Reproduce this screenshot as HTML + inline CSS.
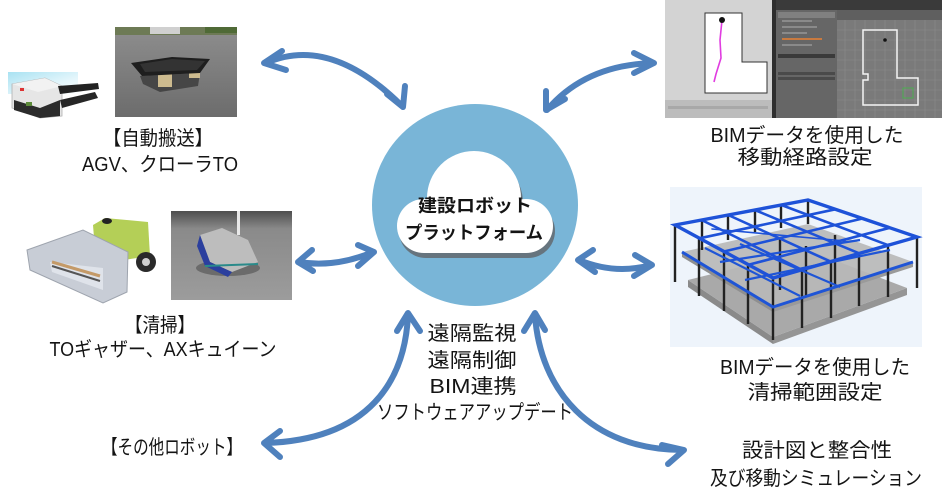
<!DOCTYPE html>
<html><head><meta charset="utf-8"><style>
html,body{margin:0;padding:0;background:#fff;}
svg{display:block;}
text{font-family:"Liberation Sans","Noto Sans CJK JP",sans-serif;fill:#141414;}
</style></head><body>
<svg width="950" height="495" viewBox="0 0 950 495" xmlns="http://www.w3.org/2000/svg">
<defs>
<linearGradient id="asph" x1="0" y1="0" x2="0" y2="1"><stop offset="0" stop-color="#8e8e8e"/><stop offset="1" stop-color="#6c6c6c"/></linearGradient>
<linearGradient id="cyan" x1="0" y1="0" x2="1" y2="1"><stop offset="0" stop-color="#a9e2f2"/><stop offset="0.6" stop-color="#e2f5fb"/><stop offset="1" stop-color="#ffffff"/></linearGradient>
<linearGradient id="floor" x1="0" y1="0" x2="0" y2="1"><stop offset="0" stop-color="#4e4e4e"/><stop offset="0.2" stop-color="#8a8a8a"/><stop offset="1" stop-color="#9c9c9c"/></linearGradient>
</defs>

<!-- ===== AGV image ===== -->
<rect x="8" y="72" width="70" height="22" fill="url(#cyan)"/>
<polygon points="12,84 45,78 62,86 62,116 40,118 12,108" fill="#e6e6e6" stroke="#b0b0b0" stroke-width="0.8"/>
<polygon points="12,84 45,78 62,86 38,92" fill="#f2f2f2"/>
<polygon points="14,100 40,108 60,100 60,116 40,118 14,110" fill="#2c2c2c"/>
<polygon points="58,86 98,83 99,89 60,94" fill="#222"/>
<polygon points="60,100 95,92 98,98 62,108" fill="#262626"/>
<rect x="26" y="102" width="6" height="4" fill="#5c8a3a"/>
<rect x="20" y="88" width="4" height="3" fill="#d33"/>

<!-- ===== Crawler photo ===== -->
<rect x="115" y="27" width="122" height="90" fill="url(#asph)"/>
<rect x="115" y="27" width="122" height="8" fill="#6d7a55"/>
<rect x="150" y="27" width="30" height="7" fill="#d0d0d0"/>
<rect x="205" y="27" width="32" height="6" fill="#4f6a36"/>
<polygon points="140,76 200,73 198,86 160,92 143,84" fill="#3a3a3a" opacity="0.8"/>
<rect x="158" y="72" width="14" height="15" fill="#cdbb8f"/>
<rect x="189" y="65" width="11" height="13" fill="#cdbb8f"/>
<polygon points="131,63 172,57 210,59 200,73 142,76" fill="#1e1e1e"/>
<polygon points="140,64 172,59 205,61 197,70 145,72" fill="#333"/>

<!-- ===== Top-right screenshot ===== -->
<rect x="665" y="0" width="107" height="100" fill="#d3d3d3"/>
<rect x="665" y="100" width="107" height="18" fill="#bcbcbc"/>
<rect x="668" y="106" width="100" height="3" fill="#a8a8a8"/>
<polygon points="705,13 742,13 742,62 767,62 767,93 705,93" fill="#fff" stroke="#333" stroke-width="1"/>
<polyline points="722,20 720,40 721,58 716,74 714,82" fill="none" stroke="#e03ce0" stroke-width="1.6"/>
<circle cx="722" cy="20" r="3" fill="#111"/>
<rect x="772" y="0" width="4" height="118" fill="#2e2e2e"/>
<rect x="776" y="0" width="166" height="10" fill="#3a3a3a"/>
<rect x="776" y="10" width="61" height="108" fill="#666"/>
<rect x="778" y="12" width="57" height="6" fill="#808080"/>
<rect x="782" y="20" width="30" height="2" fill="#8a8a8a"/>
<rect x="782" y="26" width="35" height="2" fill="#8a8a8a"/>
<rect x="782" y="32" width="25" height="2" fill="#8a8a8a"/>
<rect x="782" y="38" width="40" height="2" fill="#c87a40"/>
<rect x="782" y="44" width="30" height="2" fill="#8a8a8a"/>
<rect x="778" y="54" width="57" height="4" fill="#3a3a3a"/>
<rect x="778" y="72" width="57" height="3" fill="#4a4a4a"/>
<rect x="778" y="77" width="57" height="3" fill="#4a4a4a"/>
<rect x="837" y="10" width="105" height="10" fill="#5f5f5f"/>
<rect x="837" y="20" width="105" height="98" fill="#7a7a7a"/>
<g stroke="#878787" stroke-width="0.8">
<line x1="845" y1="20" x2="845" y2="118"/><line x1="855" y1="20" x2="855" y2="118"/><line x1="865" y1="20" x2="865" y2="118"/><line x1="875" y1="20" x2="875" y2="118"/><line x1="885" y1="20" x2="885" y2="118"/><line x1="895" y1="20" x2="895" y2="118"/><line x1="905" y1="20" x2="905" y2="118"/><line x1="915" y1="20" x2="915" y2="118"/><line x1="925" y1="20" x2="925" y2="118"/><line x1="935" y1="20" x2="935" y2="118"/>
<line x1="837" y1="30" x2="942" y2="30"/><line x1="837" y1="40" x2="942" y2="40"/><line x1="837" y1="50" x2="942" y2="50"/><line x1="837" y1="60" x2="942" y2="60"/><line x1="837" y1="70" x2="942" y2="70"/><line x1="837" y1="80" x2="942" y2="80"/><line x1="837" y1="90" x2="942" y2="90"/><line x1="837" y1="100" x2="942" y2="100"/><line x1="837" y1="110" x2="942" y2="110"/>
</g>
<polygon points="863,30 897,30 897,78 918,78 918,105 863,105 863,80 868,80 868,74 863,74" fill="none" stroke="#f4f4f4" stroke-width="1.5"/>
<rect x="903" y="88" width="10" height="10" fill="none" stroke="#4caf50" stroke-width="1"/>
<circle cx="885" cy="40" r="1.8" fill="#111"/>

<!-- ===== Gatherer ===== -->
<polygon points="93,225 105,218 148,222 150,256 110,262 95,250" fill="#b4cf57"/>
<ellipse cx="107" cy="221" rx="5" ry="3" fill="#222"/>
<circle cx="146" cy="262" r="10" fill="#2a2a2a"/>
<circle cx="146" cy="262" r="4" fill="#cfcfcf"/>
<polygon points="27,250 83,230 128,252 127,292 103,303 30,270" fill="#c8cdd6" stroke="#9ea4ae" stroke-width="1"/>
<polygon points="50,262 103,268 103,290 52,272" fill="#dfe3ea"/>
<line x1="52" y1="262" x2="100" y2="276" stroke="#c49a68" stroke-width="3"/>
<line x1="52" y1="266" x2="100" y2="281" stroke="#555" stroke-width="2"/>

<!-- ===== AX photo ===== -->
<rect x="171" y="211" width="121" height="89" fill="url(#floor)"/>
<rect x="237" y="211" width="3" height="24" fill="#e8e8e8"/>
<ellipse cx="228" cy="268" rx="32" ry="8" fill="#6b6b6b"/>
<polygon points="200,235 222,228 248,240 258,262 232,272 210,262" fill="#bdbdbd"/>
<polygon points="200,235 210,262 232,272 228,277 205,266 197,246" fill="#2b3f9e"/>
<line x1="205" y1="266" x2="258" y2="264" stroke="#2a8a8a" stroke-width="2"/>

<!-- ===== BIM image ===== -->
<rect x="670" y="187" width="252" height="160" fill="#eef4fb"/>
<polygon points="688,280 773,337 773,344 688,287" fill="#8a8a8a"/>
<polygon points="773,337 907,288 907,295 773,344" fill="#959595"/>
<polygon points="688,280 808,250 907,288 773,337" fill="#a9a9a9"/>
<polygon points="682,252 773,307 773,312 682,257" fill="#8f8f8f"/>
<polygon points="773,307 913,262 913,267 773,312" fill="#9a9a9a"/>
<polygon points="682,252 808,224 913,262 773,307" fill="#b8b8b8" opacity="0.92"/>
<g stroke="#222" stroke-width="2.4">
<line x1="675" y1="225" x2="675" y2="282"/><line x1="699" y1="238" x2="699" y2="296"/><line x1="724" y1="252" x2="724" y2="311"/><line x1="748" y1="265" x2="748" y2="324"/><line x1="773" y1="278" x2="773" y2="340"/>
<line x1="802" y1="270" x2="802" y2="328"/><line x1="831" y1="262" x2="831" y2="318"/><line x1="859" y1="253" x2="859" y2="306"/><line x1="888" y1="245" x2="888" y2="297"/><line x1="917" y1="237" x2="917" y2="288"/>
<line x1="702" y1="220" x2="702" y2="250"/><line x1="728" y1="215" x2="728" y2="240"/><line x1="755" y1="210" x2="755" y2="232"/><line x1="781" y1="205" x2="781" y2="228"/><line x1="808" y1="200" x2="808" y2="224"/>
<line x1="780" y1="238" x2="780" y2="290"/><line x1="806" y1="246" x2="806" y2="296"/><line x1="835" y1="235" x2="835" y2="285"/>
</g>
<g fill="none" stroke="#1f55d6" stroke-width="2.2">
<polyline points="682,252 773,307 913,262" stroke-width="3"/>
<line x1="705" y1="248" x2="800" y2="296"/>
<line x1="740" y1="244" x2="840" y2="287"/>
<line x1="720" y1="262" x2="860" y2="240"/>
<line x1="745" y1="280" x2="890" y2="250"/>
</g>
<g stroke="#1e52d8" stroke-width="2.6" fill="none" stroke-linecap="round">
<polygon points="675,225 808,200 917,237 773,278" stroke-width="3.4"/>
<line x1="699.5" y1="238.3" x2="835.3" y2="209.3"/>
<line x1="724" y1="251.5" x2="862.5" y2="218.5"/>
<line x1="748.5" y1="264.8" x2="889.8" y2="227.8"/>
<line x1="701.6" y1="220" x2="801.8" y2="269.8"/>
<line x1="728.2" y1="215" x2="830.6" y2="261.6"/>
<line x1="754.8" y1="210" x2="859.4" y2="253.4"/>
<line x1="781.4" y1="205" x2="888.2" y2="245.2"/>
<line x1="712" y1="229" x2="845" y2="241" stroke-width="1.6"/>
</g>

<!-- ===== Central circle & cloud ===== -->
<ellipse cx="475" cy="205" rx="103" ry="101" fill="#79b5d7"/>
<g fill="#66747e" transform="translate(2,5)">
<circle cx="424" cy="226" r="27"/><circle cx="526" cy="226" r="27"/><circle cx="474" cy="198" r="47"/><rect x="424" y="212" width="102" height="41"/>
</g>
<g fill="#ffffff">
<circle cx="424" cy="226" r="27"/><circle cx="526" cy="226" r="27"/><circle cx="474" cy="198" r="47"/><rect x="424" y="212" width="102" height="41"/>
</g>
<text x="475" y="212" font-size="18" font-weight="bold" text-anchor="middle" textLength="114" lengthAdjust="spacingAndGlyphs">建設ロボット</text>
<text x="474" y="239" font-size="18" font-weight="bold" text-anchor="middle" textLength="138" lengthAdjust="spacingAndGlyphs">プラットフォーム</text>

<!-- ===== Arrows ===== -->
<g fill="none" stroke="#4f81bd" stroke-width="6" stroke-linecap="round" stroke-linejoin="round">
<path d="M266 63 Q330 35 401 105"/>
<polyline points="282,51 264,63 286,70"/>
<polyline points="405,86 403,107 387,94"/>
<path d="M547 110 Q585 65 653 63"/>
<polyline points="546,91 546,110 565,99"/>
<polyline points="634,53 654,63 634,73"/>
<path d="M299 262 Q335 268 373 252"/>
<polyline points="312,250 298,262 313,271"/>
<polyline points="358,245 374,252 358,266"/>
<path d="M579 260 Q615 275 651 265"/>
<polyline points="593,250 578,260 595,272"/>
<polyline points="635,255 652,265 634,276"/>
<path d="M408 315 C405 380 370 440 265 443"/>
<polyline points="397,331 408,313 420,331"/>
<polyline points="280,431 264,443 280,457"/>
<path d="M535 315 C540 390 590 450 683 450"/>
<polyline points="524,331 535,313 545,330"/>
<polyline points="662,445 684,450 668,464"/>
</g>

<!-- ===== Labels ===== -->
<g font-size="20" text-anchor="middle">
<text x="158" y="145" textLength="110" lengthAdjust="spacingAndGlyphs">【自動搬送】</text>
<text x="160" y="171" textLength="156" lengthAdjust="spacingAndGlyphs">AGV、クローラTO</text>
<text x="807" y="142" textLength="193" lengthAdjust="spacingAndGlyphs">BIMデータを使用した</text>
<text x="805" y="164" textLength="135" lengthAdjust="spacingAndGlyphs">移動経路設定</text>
<text x="160" y="332" textLength="70" lengthAdjust="spacingAndGlyphs">【清掃】</text>
<text x="163" y="356" textLength="227" lengthAdjust="spacingAndGlyphs">TOギャザー、AXキュイーン</text>
<text x="815" y="374" textLength="190" lengthAdjust="spacingAndGlyphs">BIMデータを使用した</text>
<text x="815" y="399" textLength="135" lengthAdjust="spacingAndGlyphs">清掃範囲設定</text>
<text x="817" y="457" textLength="150" lengthAdjust="spacingAndGlyphs">設計図と整合性</text>
<text x="816" y="485" textLength="212" lengthAdjust="spacingAndGlyphs">及び移動シミュレーション</text>
<text x="172" y="454" textLength="140" lengthAdjust="spacingAndGlyphs">【その他ロボット】</text>
<text x="472" y="340" textLength="89" lengthAdjust="spacingAndGlyphs">遠隔監視</text>
<text x="472" y="367" textLength="89" lengthAdjust="spacingAndGlyphs">遠隔制御</text>
<text x="473" y="393" textLength="87" lengthAdjust="spacingAndGlyphs">BIM連携</text>
<text x="475" y="419" textLength="196" lengthAdjust="spacingAndGlyphs">ソフトウェアアップデート</text>
</g>
</svg>
</body></html>
